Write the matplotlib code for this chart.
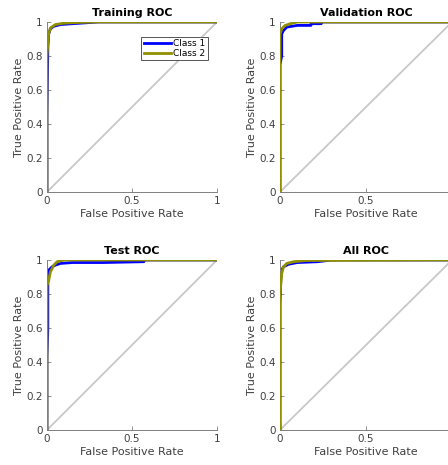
import matplotlib
matplotlib.use("Agg")
import matplotlib.pyplot as plt

titles = ["Training ROC", "Validation ROC", "Test ROC", "All ROC"]
class_names = ["Class 1", "Class 2"]

train_c1_fpr = [0, 0, 0.005, 0.01, 0.02, 0.04, 0.08, 0.15, 0.3, 1]
train_c1_tpr = [0, 0.45, 0.85, 0.93, 0.96, 0.975, 0.985, 0.99, 1, 1]
train_c2_fpr = [0, 0, 0.005, 0.01, 0.02, 0.05, 0.1, 0.2, 0.3, 1]
train_c2_tpr = [0, 0.8, 0.88, 0.93, 0.965, 0.985, 0.993, 0.998, 1, 1]

val_c1_fpr = [0, 0, 0.01, 0.01, 0.02, 0.04, 0.1, 0.18, 0.18, 0.24, 0.24, 1]
val_c1_tpr = [0, 0.75, 0.8, 0.93, 0.95, 0.97, 0.98, 0.98, 0.99, 0.99, 1, 1]
val_c2_fpr = [0, 0, 0.01, 0.03, 0.06, 0.1, 1]
val_c2_tpr = [0, 0.93, 0.96, 0.98, 0.99, 1, 1]

test_c1_fpr = [0, 0, 0.005, 0.005, 0.01, 0.02, 0.03, 0.05, 0.08, 0.15, 0.33, 0.57, 0.57, 1]
test_c1_tpr = [0, 0.43, 0.6, 0.9, 0.94, 0.95, 0.96, 0.97, 0.98, 0.985, 0.985, 0.99, 1, 1]
test_c2_fpr = [0, 0, 0.01, 0.02, 0.04, 0.06, 0.1, 1]
test_c2_tpr = [0, 0.85, 0.88, 0.93, 0.97, 0.99, 1, 1]

all_c1_fpr = [0, 0, 0.005, 0.01, 0.02, 0.05, 0.1, 0.22, 0.3, 1]
all_c1_tpr = [0, 0.75, 0.9, 0.94, 0.96, 0.975, 0.985, 0.99, 1, 1]
all_c2_fpr = [0, 0, 0.01, 0.02, 0.04, 0.08, 0.15, 1]
all_c2_tpr = [0, 0.8, 0.92, 0.96, 0.98, 0.99, 0.997, 1]

curves = [
    ((train_c1_fpr, train_c1_tpr), (train_c2_fpr, train_c2_tpr)),
    ((val_c1_fpr, val_c1_tpr), (val_c2_fpr, val_c2_tpr)),
    ((test_c1_fpr, test_c1_tpr), (test_c2_fpr, test_c2_tpr)),
    ((all_c1_fpr, all_c1_tpr), (all_c2_fpr, all_c2_tpr)),
]

x_ticks = [0, 0.5, 1]
x_ticklabels = ["0", "0.5", "1"]
y_ticks = [0, 0.2, 0.4, 0.6, 0.8, 1]
y_ticklabels = ["0", "0.2", "0.4", "0.6", "0.8", "1"]

plt.rcParams['font.family'] = ['DejaVu Sans']
fig = plt.figure(figsize=(4.48, 4.65), dpi=100)

W, H = 448, 465
boxes = [
    (47, 22, 170, 170),
    (280, 22, 172, 170),
    (47, 260, 170, 170),
    (280, 260, 172, 170),
]
colors = ["#0000ff", "#8f8f00"]
txt = "#404040"

for i, (x0, y0, w, h) in enumerate(boxes):
    ax = fig.add_axes([x0 / W, 1 - (y0 + h) / H, w / W, h / H])
    ax.plot([0, 1], [0, 1], color="#c8c8c8", lw=1.3, zorder=1)
    (f1, t1), (f2, t2) = curves[i]
    ax.plot(f1, t1, color=colors[0], lw=2, label=class_names[0], zorder=2)
    ax.plot(f2, t2, color=colors[1], lw=2, label=class_names[1], zorder=3)
    ax.set_xlim(0, 1)
    ax.set_ylim(0, 1)
    ax.set_xticks(x_ticks)
    ax.set_xticklabels(x_ticklabels)
    ax.set_yticks(y_ticks)
    ax.set_yticklabels(y_ticklabels)
    for s in ["top", "right"]:
        ax.spines[s].set_visible(False)
    for s in ["left", "bottom"]:
        ax.spines[s].set_color("#808080")
        ax.spines[s].set_linewidth(0.7)
    ax.tick_params(direction="in", length=3, width=0.6, color="#808080",
                   labelsize=7.5, labelcolor=txt, pad=3)
    ax.set_xlabel("False Positive Rate", fontsize=8, color=txt, labelpad=2)
    ax.set_ylabel("True Positive Rate", fontsize=8, color=txt, labelpad=2)
    ax.set_title(titles[i], fontsize=8, fontweight="bold", color="black", pad=4)
    ax.patch.set_alpha(0)
    if i == 0:
        leg = ax.legend(loc="upper right", bbox_to_anchor=(0.947, 0.912),
                        fontsize=6.5, frameon=True, fancybox=False,
                        handlelength=3.0, handletextpad=0.3, borderpad=0.25,
                        labelspacing=0.1, borderaxespad=0, framealpha=1)
        leg.get_frame().set_edgecolor("#555555")
        leg.get_frame().set_linewidth(0.7)

fig.savefig("out.png", dpi=100)
